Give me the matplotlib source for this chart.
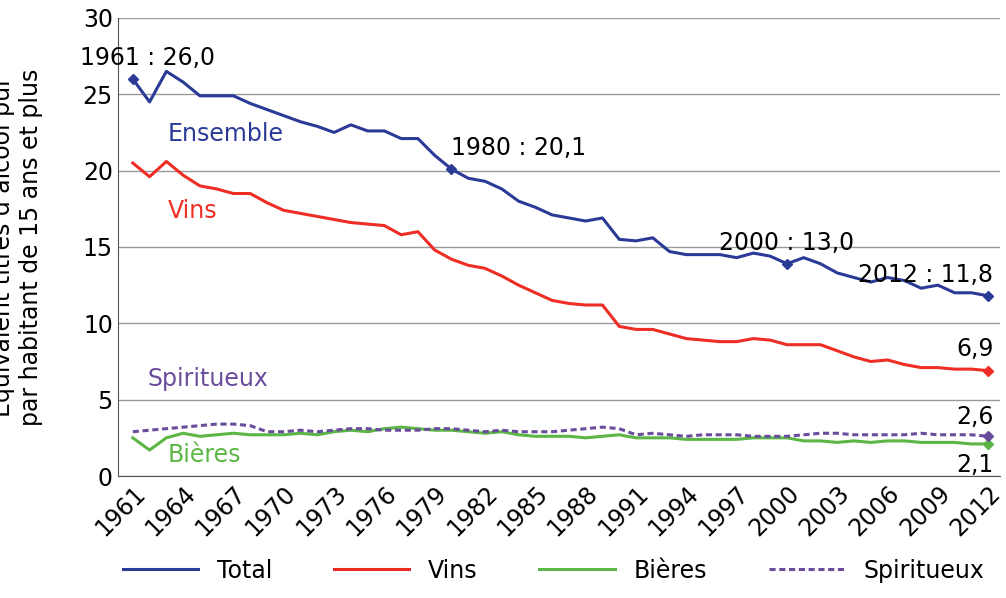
import matplotlib
matplotlib.use("Agg")
import matplotlib.pyplot as plt

years = list(range(1961, 2013))
total = [26.0,24.5,26.5,25.8,24.9,24.9,24.9,24.4,24.0,23.6,23.2,22.9,22.5,23.0,22.6,22.6,22.1,22.1,21.0,20.1,
         19.5,19.3,18.8,18.0,17.6,17.1,16.9,16.7,16.9,15.5,15.4,15.6,14.7,14.5,14.5,14.5,14.3,14.6,14.4,13.9,
         14.3,13.9,13.3,13.0,12.7,13.0,12.8,12.3,12.5,12.0,12.0,11.8]
vins = [20.5,19.6,20.6,19.7,19.0,18.8,18.5,18.5,17.9,17.4,17.2,17.0,16.8,16.6,16.5,16.4,15.8,16.0,14.8,14.2,
        13.8,13.6,13.1,12.5,12.0,11.5,11.3,11.2,11.2,9.8,9.6,9.6,9.3,9.0,8.9,8.8,8.8,9.0,8.9,8.6,
        8.6,8.6,8.2,7.8,7.5,7.6,7.3,7.1,7.1,7.0,7.0,6.9]
bieres = [2.5,1.7,2.5,2.8,2.6,2.7,2.8,2.7,2.7,2.7,2.8,2.7,2.9,3.0,2.9,3.1,3.2,3.1,3.0,3.0,
          2.9,2.8,2.9,2.7,2.6,2.6,2.6,2.5,2.6,2.7,2.5,2.5,2.5,2.4,2.4,2.4,2.4,2.5,2.5,2.5,
          2.3,2.3,2.2,2.3,2.2,2.3,2.3,2.2,2.2,2.2,2.1,2.1]
spirit = [2.9,3.0,3.1,3.2,3.3,3.4,3.4,3.3,2.9,2.9,3.0,2.9,3.0,3.1,3.1,3.0,3.0,3.0,3.1,3.1,
          3.0,2.9,3.0,2.9,2.9,2.9,3.0,3.1,3.2,3.1,2.7,2.8,2.7,2.6,2.7,2.7,2.7,2.6,2.6,2.6,
          2.7,2.8,2.8,2.7,2.7,2.7,2.7,2.8,2.7,2.7,2.7,2.6]
tick_years = list(range(1961, 2013, 3))

c_tot, c_vin, c_bie, c_spi = "#2b3a97", "#ee2d24", "#5cb646", "#6a4c9c"

fig = plt.figure(figsize=(10.06, 5.98), dpi=100)
ax = fig.add_axes([0.117, 0.204, 0.877, 0.766])
ax.plot(years, total, color=c_tot, lw=2.2, label="Total")
ax.plot(years, vins, color=c_vin, lw=2.2, label="Vins")
ax.plot(years, bieres, color=c_bie, lw=2.2, label="Bières")
ax.plot(years, spirit, color=c_spi, lw=2.2, ls=(0, (2, 1.2)), label="Spiritueux")

for yr in [1961, 1980, 2000, 2012]:
    i = years.index(yr)
    ax.plot(yr, total[i], marker="D", color=c_tot, ms=5)
i = -1
ax.plot(years[i], vins[i], marker="D", color=c_vin, ms=5)
ax.plot(years[i], bieres[i], marker="D", color=c_bie, ms=5)
ax.plot(years[i], spirit[i], marker="D", color=c_spi, ms=5)

fs = 17
ax.text(1961.9, 26.6, "1961 : 26,0", fontsize=fs, ha="center", va="bottom")
ax.text(1980, 20.7, "1980 : 20,1", fontsize=fs, ha="left", va="bottom")
ax.text(2000, 14.5, "2000 : 13,0", fontsize=fs, ha="center", va="bottom")
ax.text(2012.3, 12.4, "2012 : 11,8", fontsize=fs, ha="right", va="bottom")
ax.text(2012.3, 7.5, "6,9", fontsize=fs, ha="right", va="bottom")
ax.text(2012.3, 3.1, "2,6", fontsize=fs, ha="right", va="bottom")
ax.text(2012.3, 1.5, "2,1", fontsize=fs, ha="right", va="top")
ax.text(1963.1, 21.6, "Ensemble", fontsize=fs, color=c_tot, va="bottom")
ax.text(1963.1, 16.6, "Vins", fontsize=fs, color=c_vin, va="bottom")
ax.text(1961.9, 5.6, "Spiritueux", fontsize=fs, color=c_spi, va="bottom")
ax.text(1963.1, 0.6, "Bières", fontsize=fs, color=c_bie, va="bottom")

ax.set_xlim(1960.1, 2012.7)
ax.set_ylim(0, 30)
ax.set_yticks(range(0, 31, 5))
ax.set_xticks(tick_years)
ax.set_xticklabels([str(y) for y in tick_years], rotation=45, ha="right", rotation_mode="anchor")
ax.tick_params(labelsize=fs, length=0)
ax.grid(axis="y", color="#9a9a9a", lw=1)
ax.set_axisbelow(True)
for s in ["top", "right"]:
    ax.spines[s].set_visible(False)
for s in ["left", "bottom"]:
    ax.spines[s].set_color("#555555")
ax.set_ylabel("Équivalent titres d’alcool pur\npar habitant de 15 ans et plus", fontsize=fs, labelpad=2)
ax.yaxis.set_label_coords(-0.085, 0.5)
fig.legend(loc="lower center", ncol=4, fontsize=fs, frameon=False, bbox_to_anchor=(0.55, -0.01),
           handlelength=3.2, columnspacing=2.6)
fig.savefig("out.png", dpi=100)
